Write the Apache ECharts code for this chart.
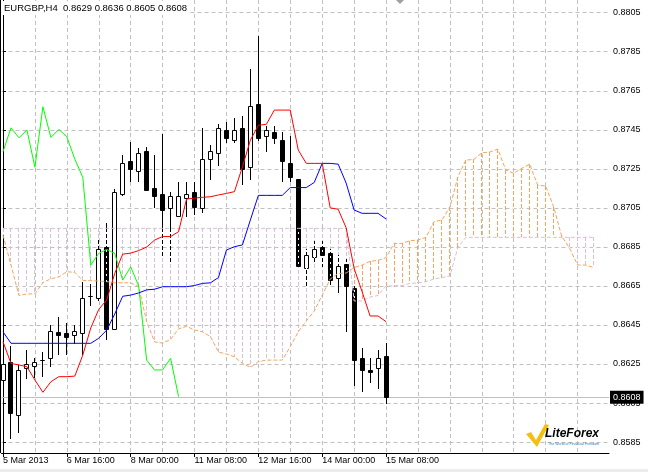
<!DOCTYPE html>
<html>
<head>
<meta charset="utf-8">
<script src="https://cdn.jsdelivr.net/npm/echarts@6/dist/echarts.min.js"></script>
<style>html,body{margin:0;padding:0;background:#fff}#c{width:648px;height:472px}</style>
</head>
<body>
<div id="c"></div>
<script>
// ---- data (H4 bars, index 0..48) ----
const symbolName = 'EURGBP,H4';
const opens = [
0.8617,0.8626,0.8599,0.8623,0.8624,0.8627,0.8628,0.86415,0.8641,0.8640,
0.8641,0.8660,0.8659,0.8685,0.8643,0.8712,0.8729,0.8724,0.8734,0.8715,
0.8712,0.8705,0.8701,0.8710,0.8713,0.8705,0.8730,0.8733,0.8745,0.8740,
0.8746,0.8726,0.8758,0.8742,0.8744,0.8740,0.8728,0.8720,0.8674,0.8680,
0.8685,0.8682,0.8669,0.8676,0.8664,0.8628,0.8622,0.8623,0.8629];
const highs = [
0.8632,0.8634,0.86245,0.8632,0.8628,0.8631,0.8645,0.8649,0.8646,0.8645,
0.8667,0.8666,0.8689,0.8697,0.87145,0.8732,0.8739,0.87355,0.8736,0.8732,
0.8743,0.8713,0.8718,0.8718,0.8718,0.8746,0.8737,0.8748,0.8749,0.8751,
0.8752,0.8776,0.8793,0.8747,0.8747,0.8744,0.8742,0.8720,0.8684,0.8688,
0.8688,0.8684,0.8681,0.8679,0.8666,0.8633,0.8628,0.8632,0.8636];
const lows = [
0.8610,0.8587,0.8590,0.8618,0.86185,0.8619,0.8624,0.8630,0.8630,0.8636,
0.8630,0.8655,0.8658,0.8638,0.8643,0.87115,0.8719,0.8719,0.8714,0.87056,
0.8680,0.8677,0.8701,0.8701,0.8702,0.8703,0.8720,0.8727,0.8739,0.8739,
0.8717,0.8720,0.8740,0.8734,0.8738,0.8719,0.8719,0.8675,0.8665,0.8678,
0.8675,0.8666,0.8662,0.8642,0.8614,0.8611,0.8616,0.86125,0.8605];
const closes = [
0.8625,0.8600,0.8622,0.8625,0.8626,0.8627,0.8642,0.8640,0.8639,0.8642,
0.8659,0.8660,0.8684,0.8643,0.8713,0.8728,0.8725,0.8733,0.8714,0.8711,
0.8704,0.8711,0.8711,0.8712,0.87056,0.8730,0.8734,0.8746,0.8741,0.8745,
0.8725,0.8757,0.8741,0.8745,0.8741,0.8729,0.8721,0.8675,0.8681,0.8684,
0.8681,0.8668,0.8675,0.8665,0.8627,0.8622,0.8621,0.8628,0.8608];

// Ichimoku lines
const tenkan = [
0.86364,0.86253,0.86245,0.86236,0.86168,0.86105,0.86159,0.86185,0.86185,0.86188,
0.86296,0.86435,0.8653,0.86578,0.86714,0.86813,0.86818,0.86831,0.86849,0.86885,
0.86903,0.86903,0.86928,0.87095,0.8710,0.87104,0.87107,0.87116,0.87124,0.87133,
0.8726,0.87397,0.87473,0.87478,0.87551,0.87551,0.87551,0.87346,0.87278,0.87278,
0.87278,0.8705,0.87043,0.86948,0.8674,0.8662,0.86496,0.86496,0.86467];
const kijun = [
0.86415,0.86356,0.86356,0.86356,0.86356,0.86356,0.86356,0.86356,0.86356,0.86356,
0.86356,0.86356,0.86382,0.86424,0.86506,0.86597,0.86603,0.86614,0.8663,0.86633,
0.86646,0.86646,0.86646,0.86646,0.86652,0.86663,0.86666,0.86693,0.86834,0.86851,
0.8686,0.86988,0.87114,0.87114,0.87114,0.87114,0.87154,0.87154,0.87154,0.8718,
0.87278,0.87278,0.87274,0.87177,0.87039,0.87022,0.87022,0.87022,0.86993];
const chikou = [
0.87338,0.8746,0.87409,0.87449,0.87258,0.87568,0.87411,0.87452,0.87414,0.8730,
0.87206,0.86757,0.86817,0.86837,0.86817,0.8668,0.86748,0.8665,0.8627,0.86219,
0.8622,0.86279,0.86083];
const senkouA = [
0.86911,0.86757,0.86601,0.86609,0.86609,0.86667,0.86687,0.86696,0.86723,0.86719,
0.86678,0.86677,0.86675,0.86672,0.86666,0.86666,0.86666,0.86646,0.86467,0.86363,
0.86357,0.86376,0.8643,0.86443,0.86424,0.86415,0.8639,0.86311,0.86301,0.86287,
0.86253,0.86233,0.86262,0.8627,0.8627,0.8627,0.86339,0.86415,0.8647,0.86521,
0.86603,0.86685,0.86714,0.86716,0.86744,0.86757,0.86776,0.86781,0.86795,0.86868,
0.86868,0.86882,0.86885,0.86899,0.86979,0.86988,0.87053,0.87209,0.87295,0.87298,
0.87332,0.87336,0.87351,0.87244,0.87227,0.87252,0.87274,0.87167,0.87162,0.87056,
0.86906,0.86843,0.86757,0.86757,0.86745];
const senkouB = [
0.86945,0.86945,0.86945,0.86945,0.86945,0.86945,0.86945,0.86945,0.86945,0.86945,
0.86945,0.86945,0.86945,0.86945,0.86945,0.86945,0.86945,0.86945,0.86945,0.86945,
0.86945,0.86945,0.86945,0.86945,0.86945,0.86945,0.86945,0.86945,0.86945,0.86945,
0.86945,0.86945,0.86945,0.86945,0.86945,0.86945,0.86945,0.86945,0.86945,0.86945,
0.86945,0.86945,0.86945,0.86945,0.86573,0.86573,0.86593,0.86601,0.8665,0.8665,
0.86652,0.86663,0.86665,0.86672,0.86685,0.86693,0.86701,0.86847,0.86899,0.86899,
0.86899,0.86899,0.86899,0.86899,0.86899,0.86899,0.86899,0.86899,0.86899,0.86899,
0.86899,0.86899,0.86899,0.86899,0.86899];

// axes
const priceTicks = [0.8585,0.8605,0.8625,0.8645,0.8665,0.8685,0.8705,0.8725,0.8745,0.8765,0.8785,0.8805];
const timeLabels = ['5 Mar 2013','6 Mar 16:00','8 Mar 00:00','11 Mar 08:00','12 Mar 16:00','14 Mar 00:00','15 Mar 08:00'];
const timeLabelBars = [0,8,16,24,32,40,48];
const gridBars = [4,8,12,16,20,24,28,32,36,40,44,48,52,56,60,64,68,72];
const lastPrice = 0.8608;

// ---- chart ----
const X_MIN = -0.1875, X_MAX = 75.9375, Y_MIN = 0.85794, Y_MAX = 0.88115;
const FONT = 'Liberation Sans';
const DASH = 4, GAP = 2;

const candleData = closes.map((c, i) => [i, opens[i], c, lows[i], highs[i]]);
const cloudData = senkouA.map((a, i) => [i, a, senkouB[i]]);
const toXY = arr => arr.map((v, i) => [i, v]);

function candleItem(params, api) {
  const i = api.value(0), o = api.value(1), c = api.value(2), l = api.value(3), h = api.value(4);
  const pO = api.coord([i, o]), pC = api.coord([i, c]);
  const pL = api.coord([i, l]), pH = api.coord([i, h]);
  const x = Math.floor(pO[0]) + 0.5;
  const top = Math.round(Math.min(pO[1], pC[1])) + 0.5;
  const bot = Math.round(Math.max(pO[1], pC[1])) + 0.5;
  const bull = c > o;
  return {
    type: 'group',
    children: [
      {type: 'line', shape: {x1: x, y1: Math.round(pH[1]), x2: x, y2: Math.round(pL[1]) + 1},
       style: {stroke: '#000', lineWidth: 1}},
      {type: 'rect', shape: {x: x - 2, y: top, width: 4, height: bot - top},
       style: {fill: bull ? '#fff' : '#000', stroke: '#000', lineWidth: 1}}
    ]
  };
}

function cloudItem(layer) {
  return function (params, api) {
    const i = api.value(0), a = api.value(1), b = api.value(2);
    if (a === b) return null;
    const pA = api.coord([i, a]), pB = api.coord([i, b]);
    const x = Math.floor(pA[0]) + 0.5;
    const y1 = Math.round(Math.min(pA[1], pB[1]));
    const y2 = Math.round(Math.max(pA[1], pB[1]));
    const color = a > b ? '#f4a460' : '#d8bfd8';
    if (layer === 'color') {
      return {type: 'line', shape: {x1: x, y1: y1, x2: x, y2: y2},
              style: {stroke: color, lineWidth: 1, lineDash: [DASH, GAP]}};
    }
    if (y2 - y1 <= DASH) return null;
    return {type: 'line', shape: {x1: x, y1: y1 + DASH, x2: x, y2: y2},
            style: {stroke: '#fff', lineWidth: 1, lineDash: [GAP, DASH]}};
  };
}

function lineSeries(name, data, color, z, dashed) {
  return {
    name: name, type: 'line', data: toXY(data), z: z,
    showSymbol: false, symbol: 'none', silent: true, clip: true,
    lineStyle: {color: color, width: 1, type: dashed ? [DASH, GAP] : 'solid'},
    animation: false
  };
}

const chart = echarts.init(document.getElementById('c'), null, {renderer: 'canvas', width: 648, height: 472});
chart.setOption({
  animation: false,
  backgroundColor: '#fff',
  textStyle: {fontFamily: FONT},
  title: {
    text: symbolName + '  ' + [opens[48], highs[48], lows[48], closes[48]].map(v => v.toFixed(4)).join(' '),
    left: 2, top: 1, padding: [2, 2, 1, 2], backgroundColor: '#fff',
    textStyle: {fontSize: 9.5, fontWeight: 'normal', color: '#000', fontFamily: FONT, lineHeight: 11}
  },
  grid: {left: 0, right: 39, top: 0, bottom: 19, containLabel: false},
  xAxis: [
    {
      type: 'value', position: 'bottom', min: X_MIN, max: X_MAX,
      axisLine: {show: false}, axisTick: {show: false, customValues: gridBars},
      axisLabel: {show: false, customValues: gridBars},
      splitLine: {show: true, lineStyle: {color: '#c0c0c0', width: 1, type: [4, 3]}}
    },
    {
      type: 'value', position: 'bottom', min: X_MIN, max: X_MAX,
      axisLine: {show: true, lineStyle: {color: '#000', width: 1}},
      axisTick: {show: true, length: 4, customValues: timeLabelBars, lineStyle: {color: '#000'}},
      axisLabel: {
        customValues: timeLabelBars, align: 'left', margin: 3,
        fontSize: 9, color: '#000', fontFamily: FONT,
        formatter: v => timeLabels[timeLabelBars.indexOf(Math.round(v))]
      },
      splitLine: {show: false}
    }
  ],
  yAxis: [
    {
      type: 'value', position: 'right', min: Y_MIN, max: Y_MAX, z: 0,
      axisLine: {show: true, lineStyle: {color: '#000', width: 1}},
      axisTick: {show: true, length: 3, customValues: priceTicks, lineStyle: {color: '#000'}},
      axisLabel: {customValues: priceTicks, margin: 4, fontSize: 9, color: '#000', fontFamily: FONT,
                  formatter: v => v.toFixed(4)},
      splitLine: {show: true, lineStyle: {color: '#c0c0c0', width: 1, type: [4, 3]}}
    },
    {
      type: 'value', position: 'right', min: Y_MIN, max: Y_MAX, z: 1,
      axisLine: {show: false},
      axisTick: {show: false, customValues: [lastPrice]},
      axisLabel: {customValues: [lastPrice], margin: 1, fontSize: 9, color: '#fff', fontFamily: FONT,
                  backgroundColor: '#000', padding: [1, 3, 1, 3], lineHeight: 11,
                  formatter: v => v.toFixed(4)},
      splitLine: {show: true, lineStyle: {color: '#c0c0c0', width: 1, type: 'solid'}}
    }
  ],
  series: [
    {name: 'cloudColor', type: 'custom', renderItem: cloudItem('color'), data: cloudData,
     encode: {x: 0, y: [1, 2]}, z: 2, silent: true, clip: true, animation: false},
    {name: 'candles', type: 'custom', renderItem: candleItem, data: candleData,
     encode: {x: 0, y: [1, 2, 3, 4]}, z: 3, silent: true, clip: true, animation: false},
    {name: 'cloudGap', type: 'custom', renderItem: cloudItem('gap'), data: cloudData,
     encode: {x: 0, y: [1, 2]}, z: 4, silent: true, clip: true, animation: false},
    lineSeries('Senkou Span A', senkouA, '#f4a460', 5, true),
    lineSeries('Senkou Span B', senkouB, '#d8bfd8', 5, true),
    lineSeries('Chikou Span', chikou, '#00ff00', 6, false),
    lineSeries('Kijun-sen', kijun, '#0000ff', 6, false),
    lineSeries('Tenkan-sen', tenkan, '#ff0000', 6, false)
  ],
  graphic: [
    {type: 'line', shape: {x1: 0.5, y1: 0, x2: 0.5, y2: 453}, style: {stroke: '#000', lineWidth: 1}, z: 10},
    {type: 'polygon', shape: {points: [[396, 0], [404, 0], [400, 4]]}, style: {fill: '#a0a0a0'}, z: 10},
    {type: 'rect', shape: {x: 0, y: 469, width: 648, height: 3}, style: {fill: '#ececec'}, z: 10},
    {type: 'polygon', shape: {points: [[526, 434], [531, 432], [536, 440], [545, 424], [549, 425], [537, 447]]},
     style: {fill: '#f2c00f'}, z: 10},
    {type: 'text', x: 545, y: 428, z: 10,
     style: {text: 'LiteForex', font: 'italic bold 12px "Liberation Sans"', align: 'left', verticalAlign: 'top',
             fill: new echarts.graphic.LinearGradient(0, 0, 0, 1, [{offset: 0, color: '#6cbf3c'}, {offset: 1, color: '#1b6fba'}])}},
    {type: 'text', x: 548, y: 442, z: 10,
     style: {text: 'The World of Financial Freedom', font: '3.6px "Liberation Sans"', align: 'left', verticalAlign: 'top', fill: '#2a7fc0'}}
  ]
});
</script>
</body>
</html>
